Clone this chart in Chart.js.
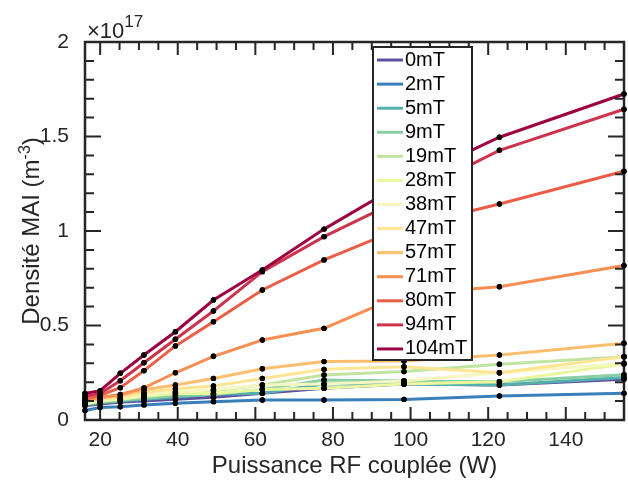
<!DOCTYPE html>
<html>
<head>
<meta charset="utf-8">
<script src="https://cdn.jsdelivr.net/npm/chart.js@4.4.1/dist/chart.umd.min.js"></script>
<style>
  html, body { margin: 0; padding: 0; background: #fff; }
  #wrap { width: 628px; height: 483px; }
</style>
</head>
<body>
<div id="wrap"><canvas id="chart"></canvas></div>
<script>
// puissance RF couplée (W)
const puissance = [16.1, 20, 25.2, 31.3, 39.4, 49.2, 61.8, 77.7, 98.3, 122.9, 155];

const champs = ['0mT', '2mT', '5mT', '9mT', '19mT', '28mT', '38mT', '47mT', '57mT', '71mT', '80mT', '94mT', '104mT'];
const couleurs = ['#5e4fa2', '#397fb9', '#55afad', '#88cfa4', '#bfe5a0', '#eaf79e', '#f6f6c0',
                  '#fee594', '#fdbf6f', '#f98e52', '#ea5d47', '#cc344d', '#9e0142'];

// densité (x 1e17 m-3)
const d0mT   = [0.075, 0.085, 0.095, 0.10, 0.11, 0.12, 0.141, 0.168, 0.19, 0.185, 0.215];
const d2mT   = [0.05, 0.066, 0.07, 0.08, 0.088, 0.097, 0.106, 0.106, 0.109, 0.127, 0.141];
const d5mT   = [0.08, 0.09, 0.10, 0.11, 0.12, 0.136, 0.141, 0.19, 0.19, 0.185, 0.225];
const d9mT   = [0.085, 0.095, 0.105, 0.115, 0.13, 0.136, 0.162, 0.212, 0.206, 0.203, 0.24];
const d19mT  = [0.09, 0.10, 0.11, 0.13, 0.145, 0.155, 0.185, 0.238, 0.256, 0.295, 0.335];
const d28mT  = [0.085, 0.10, 0.11, 0.125, 0.14, 0.14, 0.162, 0.168, 0.19, 0.203, 0.296];
const d38mT  = [0.09, 0.105, 0.115, 0.135, 0.15, 0.16, 0.185, 0.19, 0.206, 0.25, 0.30];
const d47mT  = [0.095, 0.11, 0.12, 0.145, 0.165, 0.18, 0.22, 0.268, 0.282, 0.25, 0.335];
const d57mT  = [0.10, 0.115, 0.13, 0.16, 0.185, 0.22, 0.271, 0.309, 0.312, 0.344, 0.406];
const d71mT  = [0.105, 0.12, 0.135, 0.17, 0.25, 0.337, 0.423, 0.485, 0.665, 0.705, 0.817];
const d80mT  = [0.11, 0.13, 0.171, 0.261, 0.392, 0.52, 0.688, 0.847, 1.02, 1.143, 1.316];
const d94mT  = [0.125, 0.14, 0.208, 0.303, 0.427, 0.577, 0.785, 0.97, 1.175, 1.427, 1.644];
const d104mT = [0.14, 0.155, 0.247, 0.344, 0.467, 0.635, 0.794, 1.01, 1.258, 1.496, 1.725];

const series = [d0mT, d2mT, d5mT, d9mT, d19mT, d28mT, d38mT, d47mT, d57mT, d71mT, d80mT, d94mT, d104mT];

const ticksX = [20, 40, 60, 80, 100, 120, 140];
const ticksY = [0, 0.5, 1, 1.5, 2];
const pasMineurX = 5;
const pasMineurY = 0.1;

const gris = '#262626';
const police = 'Liberation Sans, Arial, Helvetica, sans-serif';

const datasets = series.map((vals, i) => ({
    label: champs[i],
    data: vals.map((v, k) => ({ x: puissance[k], y: v })),
    borderColor: couleurs[i],
    backgroundColor: couleurs[i],
    borderWidth: 3,
    pointRadius: 2.7,
    pointBackgroundColor: '#000',
    pointBorderWidth: 0,
    tension: 0,
    order: series.length - i
}));

// cadre, graduations intérieures, titres
const cadre = {
    id: 'cadre',
    afterDatasetsDraw(chart) {
        const ctx = chart.ctx;
        const a = chart.chartArea;
        const sx = chart.scales.x, sy = chart.scales.y;
        ctx.save();
        ctx.strokeStyle = gris;
        ctx.lineWidth = 2;
        ctx.beginPath();
        // graduations x (haut et bas)
        for (let v = Math.ceil(sx.min / pasMineurX) * pasMineurX; v <= sx.max; v += pasMineurX) {
            const px = sx.getPixelForValue(v);
            const L = ticksX.includes(v) ? 13 : 8;
            ctx.moveTo(px, a.bottom); ctx.lineTo(px, a.bottom - L);
            ctx.moveTo(px, a.top); ctx.lineTo(px, a.top + L);
        }
        // graduations y (gauche et droite)
        for (let k = 0; k * pasMineurY <= sy.max + 1e-9; k++) {
            const v = +(k * pasMineurY).toFixed(2);
            const py = sy.getPixelForValue(v);
            const L = ticksY.includes(v) ? 16 : 9;
            ctx.moveTo(a.left, py); ctx.lineTo(a.left + L, py);
            ctx.moveTo(a.right, py); ctx.lineTo(a.right - L, py);
        }
        ctx.stroke();
        ctx.lineWidth = 2.5;
        ctx.strokeRect(a.left, a.top, a.right - a.left, a.bottom - a.top);

        // points noirs au-dessus de toutes les courbes
        chart.getSortedVisibleDatasetMetas().forEach(meta => {
            meta.data.forEach(p => {
                ctx.beginPath();
                ctx.arc(p.x, p.y, 2.7, 0, Math.PI * 2);
                ctx.fillStyle = '#000';
                ctx.fill();
            });
        });
        ctx.restore();
    },
    afterDraw(chart) {
        const ctx = chart.ctx;
        const a = chart.chartArea;
        ctx.save();
        ctx.fillStyle = gris;

        // x10^17
        ctx.textBaseline = 'alphabetic';
        ctx.textAlign = 'left';
        ctx.font = '22px ' + police;
        ctx.fillText('\u00d710', a.left + 2, 38);
        const w = ctx.measureText('\u00d710').width;
        ctx.font = '17px ' + police;
        ctx.fillText('17', a.left + 2 + w, 27);

        // titre axe x
        ctx.font = '24px ' + police;
        ctx.textAlign = 'center';
        ctx.textBaseline = 'middle';
        ctx.fillText('Puissance RF couplée (W)', (a.left + a.right) / 2, 466);

        // titre axe y avec exposant
        ctx.translate(30, (a.top + a.bottom) / 2);
        ctx.rotate(-Math.PI / 2);
        const t1 = 'Densité MAI (m', t2 = '-3', t3 = ')';
        ctx.font = '24px ' + police;
        const w1 = ctx.measureText(t1).width, w3 = ctx.measureText(t3).width;
        ctx.font = '16px ' + police;
        const w2 = ctx.measureText(t2).width;
        let x0 = -(w1 + w2 + w3) / 2;
        ctx.textAlign = 'left';
        ctx.textBaseline = 'alphabetic';
        ctx.font = '24px ' + police;
        ctx.fillText(t1, x0, 9);
        ctx.font = '16px ' + police;
        ctx.fillText(t2, x0 + w1, 0);
        ctx.font = '24px ' + police;
        ctx.fillText(t3, x0 + w1 + w2, 9);
        ctx.restore();

        // légende
        ctx.save();
        const lx = 373, ly = 47, lw = 99, lh = 313;
        const pas = lh / champs.length;
        ctx.fillStyle = '#fff';
        ctx.fillRect(lx, ly, lw, lh);
        ctx.strokeStyle = gris;
        ctx.lineWidth = 2;
        ctx.strokeRect(lx, ly, lw, lh);
        ctx.font = '20px ' + police;
        ctx.textBaseline = 'middle';
        ctx.textAlign = 'left';
        champs.forEach((c, i) => {
            const yy = ly + pas * (i + 0.5) + 1;
            ctx.strokeStyle = couleurs[i];
            ctx.lineWidth = 3;
            ctx.beginPath();
            ctx.moveTo(lx + 4, yy); ctx.lineTo(lx + 30, yy);
            ctx.stroke();
            ctx.fillStyle = '#000';
            ctx.fillText(c, lx + 32, yy);
        });
        ctx.restore();
    }
};

new Chart(document.getElementById('chart'), {
    type: 'line',
    data: { datasets: datasets },
    options: {
        responsive: true,
        maintainAspectRatio: false,
        animation: false,
        clip: false,
        layout: { padding: { top: 42, right: 3, left: 0, bottom: 0 } },
        plugins: { legend: { display: false }, tooltip: { enabled: false } },
        scales: {
            x: {
                type: 'linear',
                min: puissance[0],
                max: puissance[puissance.length - 1],
                grid: { display: false },
                border: { display: false },
                afterBuildTicks: s => { s.ticks = ticksX.map(v => ({ value: v })); },
                afterFit: s => { s.height = 63; },
                ticks: { color: gris, padding: 0, font: { size: 21, family: police }, maxRotation: 0 }
            },
            y: {
                min: 0,
                max: 2,
                grid: { display: false },
                border: { display: false },
                afterBuildTicks: s => { s.ticks = ticksY.map(v => ({ value: v })); },
                afterFit: s => { s.width = 85; },
                ticks: { color: gris, padding: 8, font: { size: 21, family: police },
                         callback: v => String(v) }
            }
        }
    },
    plugins: [cadre]
});
</script>
</body>
</html>
